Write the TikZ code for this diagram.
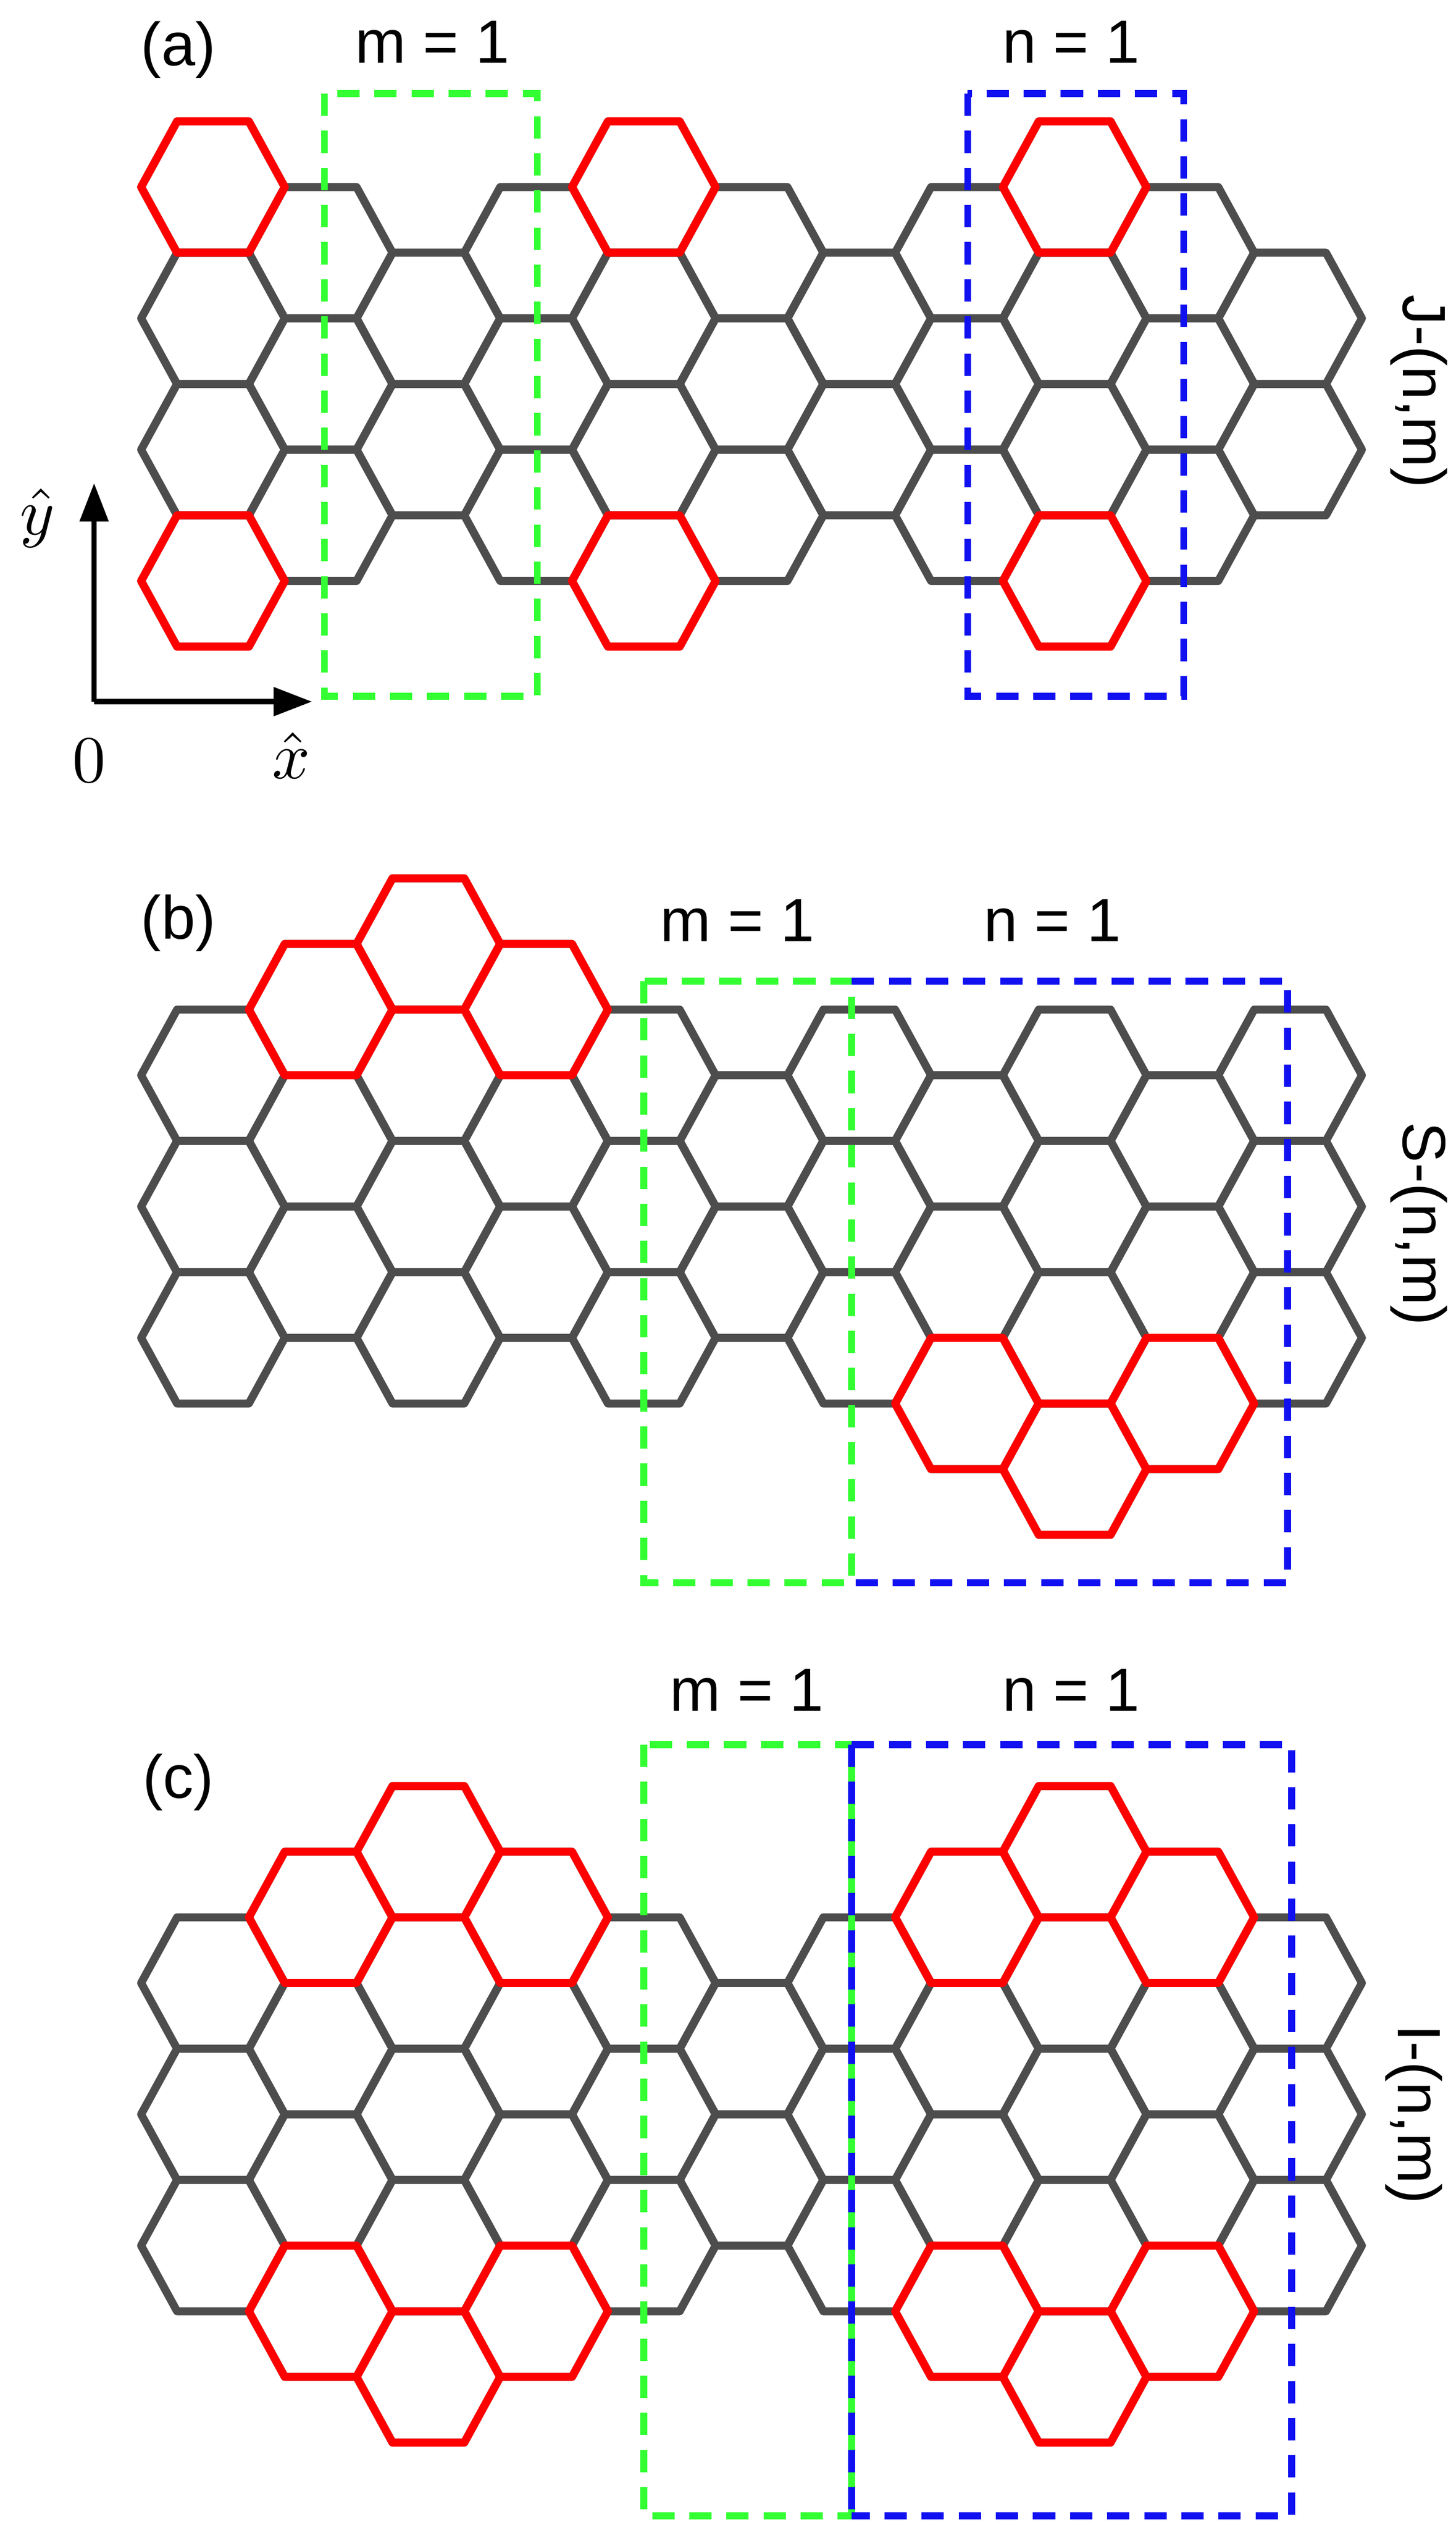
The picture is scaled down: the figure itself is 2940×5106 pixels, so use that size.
\documentclass[tikz,border=0pt]{standalone}
\usepackage{fontspec}
\setmainfont{Liberation Sans}
\usetikzlibrary{arrows.meta}
\definecolor{hgray}{HTML}{4D4D4D}
\definecolor{hred}{HTML}{FF0000}
\definecolor{hgreen}{HTML}{33FF33}
\definecolor{hblue}{HTML}{1010F0}
\tikzset{
  hexpath/.style={line width=4.6pt,line join=round},
  hexg/.pic={\draw[hexpath,hgray] (-145,0)--(-72.5,-132.5)--(72.5,-132.5)--(145,0)--(72.5,132.5)--(-72.5,132.5)--cycle;},
  hexr/.pic={\draw[hexpath,hred] (-145,0)--(-72.5,-132.5)--(72.5,-132.5)--(145,0)--(72.5,132.5)--(-72.5,132.5)--cycle;},
  gbox/.style={draw=hgreen,line width=4pt,dash pattern=on 12.8pt off 8.5pt},
  bbox/.style={draw=hblue,line width=4pt,dash pattern=on 12.8pt off 8.5pt},
  lbl/.style={font=\fontsize{35}{40}\selectfont,inner sep=0pt},
  mlbl/.style={scale=3.8,inner sep=0pt},
  axis/.style={line width=3pt,-{Triangle[length=22pt,width=16pt]}}
}
\begin{document}
\begin{tikzpicture}[x=0.01cm,y=-0.01cm]
\useasboundingbox (0,0) rectangle (2940,5106);
% ---------- panel (a)
\def\base{775}
\foreach \c/\l in {0/{-3,-1,1,3},1/{-2,0,2},2/{-1,1},3/{-2,0,2},4/{-3,-1,1,3},5/{-2,0,2},6/{-1,1},7/{-2,0,2},8/{-3,-1,1,3},9/{-2,0,2},10/{-1,1}}
  {\foreach \o in \l {\pic at ({430+217.5*\c},{\base+132.5*\o}) {hexg};}}
\foreach \c/\o in {0/-3,0/3,4/-3,4/3,8/-3,8/3}
  {\pic at ({430+217.5*\c},{\base+132.5*\o}) {hexr};}
\draw[gbox] (655,189) rectangle (1085,1405);
\draw[bbox] (1954,189) rectangle (2390,1405);
\node[lbl] (la) at (360,100) {(a)};
\node[lbl] (ma) at (873,85) {m = 1};
\node[lbl] (na) at (2163,85) {n = 1};
\node[lbl,rotate=-90] (ja) at (2865,790) {J-(n,m)};
\coordinate (o) at (190,1416);
\coordinate (yy) at (190,975);
\coordinate (xx) at (630,1416);
\draw[axis] (o) -- (yy);
\draw[axis] (o) -- (xx);
\node[mlbl] (zero) at (180,1535) {$0$};
\node[mlbl] (xh) at (588,1525) {$\hat{x}$};
\node[mlbl] (yh) at (76,1045) {$\hat{y}$};
% ---------- panel (b)
\def\base{2435}
\foreach \c/\l in {0/{-2,0,2},1/{-3,-1,1},2/{-4,-2,0,2},3/{-3,-1,1},4/{-2,0,2},5/{-1,1},6/{-2,0,2},7/{-1,1,3},8/{-2,0,2,4},9/{-1,1,3},10/{-2,0,2}}
  {\foreach \o in \l {\pic at ({430+217.5*\c},{\base+132.5*\o}) {hexg};}}
\foreach \c/\o in {1/-3,2/-4,3/-3,7/3,8/4,9/3}
  {\pic at ({430+217.5*\c},{\base+132.5*\o}) {hexr};}
\draw[gbox] (1300,1980) rectangle (1720,3194);
\draw[bbox] (1720,1980) -- (2600,1980) -- (2600,3194) -- (1720,3194);
\node[lbl] (lb) at (360,1863) {(b)};
\node[lbl] (mb) at (1489,1858) {m = 1};
\node[lbl] (nb) at (2125,1858) {n = 1};
\node[lbl,rotate=-90] (sb) at (2865,2470) {S-(n,m)};
% ---------- panel (c)
\def\base{4267}
\foreach \c/\l in {0/{-2,0,2},1/{-3,-1,1,3},2/{-4,-2,0,2,4},3/{-3,-1,1,3},4/{-2,0,2},5/{-1,1},6/{-2,0,2},7/{-3,-1,1,3},8/{-4,-2,0,2,4},9/{-3,-1,1,3},10/{-2,0,2}}
  {\foreach \o in \l {\pic at ({430+217.5*\c},{\base+132.5*\o}) {hexg};}}
\foreach \c/\o in {1/-3,2/-4,3/-3,1/3,2/4,3/3,7/-3,8/-4,9/-3,7/3,8/4,9/3}
  {\pic at ({430+217.5*\c},{\base+132.5*\o}) {hexr};}
\draw[gbox] (1300,3521) rectangle (1720,5077);
\draw[bbox] (1720,3521) -- (2608,3521) -- (2608,5077) -- (1720,5077);
\draw[bbox] (1720,3521) -- (1720,5077);
\node[lbl] (lc) at (360,3597) {(c)};
\node[lbl] (mc) at (1508,3411) {m = 1};
\node[lbl] (nc) at (2163,3411) {n = 1};
\node[lbl,rotate=-90] (ic) at (2855,4267) {I-(n,m)};
\end{tikzpicture}
\end{document}
